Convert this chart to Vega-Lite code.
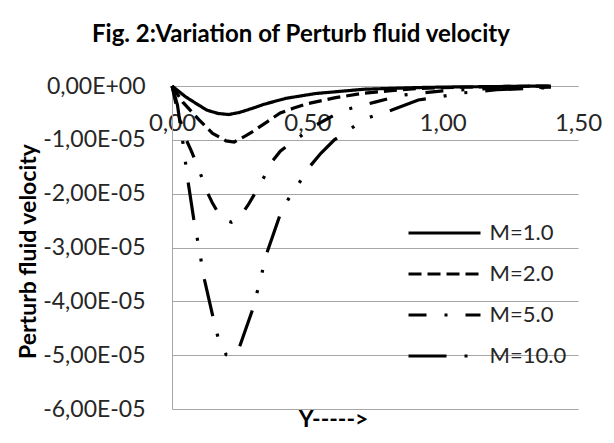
{
  "$schema": "https://vega.github.io/schema/vega-lite/v6.json",
  "autosize": "none",
  "width": 406,
  "height": 323,
  "padding": {"left": 172, "top": 86, "right": 36, "bottom": 34},
  "background": "white",
  "config": {
    "view": {"stroke": null},
    "font": "Lato"
  },
  "title": {
    "text": "Fig. 2:Variation of Perturb  fluid velocity",
    "anchor": "start",
    "frame": "group",
    "dx": -80,
    "offset": 28,
    "font": "Lato",
    "fontSize": 24,
    "fontWeight": "bold",
    "color": "#000000"
  },
  "data": {
    "values": [
      {"X": 0.00, "V": 0.0, "M": "M=1.0"},
      {"X": 0.05, "V": -0.20e-5, "M": "M=1.0"},
      {"X": 0.10, "V": -0.36e-5, "M": "M=1.0"},
      {"X": 0.13, "V": -0.45e-5, "M": "M=1.0"},
      {"X": 0.17, "V": -0.51e-5, "M": "M=1.0"},
      {"X": 0.21, "V": -0.53e-5, "M": "M=1.0"},
      {"X": 0.25, "V": -0.49e-5, "M": "M=1.0"},
      {"X": 0.30, "V": -0.41e-5, "M": "M=1.0"},
      {"X": 0.34, "V": -0.34e-5, "M": "M=1.0"},
      {"X": 0.42, "V": -0.23e-5, "M": "M=1.0"},
      {"X": 0.53, "V": -0.14e-5, "M": "M=1.0"},
      {"X": 0.71, "V": -0.06e-5, "M": "M=1.0"},
      {"X": 0.90, "V": -0.03e-5, "M": "M=1.0"},
      {"X": 1.00, "V": -0.02e-5, "M": "M=1.0"},
      {"X": 1.20, "V": -0.01e-5, "M": "M=1.0"},
      {"X": 1.40, "V": 0.0, "M": "M=1.0"},

      {"X": 0.00, "V": 0.0, "M": "M=2.0"},
      {"X": 0.04, "V": -0.30e-5, "M": "M=2.0"},
      {"X": 0.10, "V": -0.63e-5, "M": "M=2.0"},
      {"X": 0.15, "V": -0.88e-5, "M": "M=2.0"},
      {"X": 0.20, "V": -1.02e-5, "M": "M=2.0"},
      {"X": 0.23, "V": -1.04e-5, "M": "M=2.0"},
      {"X": 0.27, "V": -0.93e-5, "M": "M=2.0"},
      {"X": 0.30, "V": -0.84e-5, "M": "M=2.0"},
      {"X": 0.35, "V": -0.67e-5, "M": "M=2.0"},
      {"X": 0.40, "V": -0.50e-5, "M": "M=2.0"},
      {"X": 0.45, "V": -0.41e-5, "M": "M=2.0"},
      {"X": 0.50, "V": -0.33e-5, "M": "M=2.0"},
      {"X": 0.60, "V": -0.22e-5, "M": "M=2.0"},
      {"X": 0.70, "V": -0.14e-5, "M": "M=2.0"},
      {"X": 0.80, "V": -0.09e-5, "M": "M=2.0"},
      {"X": 0.90, "V": -0.05e-5, "M": "M=2.0"},
      {"X": 1.00, "V": -0.03e-5, "M": "M=2.0"},
      {"X": 1.20, "V": -0.01e-5, "M": "M=2.0"},
      {"X": 1.40, "V": 0.0, "M": "M=2.0"},

      {"X": 0.00, "V": 0.0, "M": "M=5.0"},
      {"X": 0.02, "V": -0.45e-5, "M": "M=5.0"},
      {"X": 0.05, "V": -0.97e-5, "M": "M=5.0"},
      {"X": 0.07, "V": -1.19e-5, "M": "M=5.0"},
      {"X": 0.10, "V": -1.56e-5, "M": "M=5.0"},
      {"X": 0.13, "V": -1.97e-5, "M": "M=5.0"},
      {"X": 0.15, "V": -2.18e-5, "M": "M=5.0"},
      {"X": 0.17, "V": -2.35e-5, "M": "M=5.0"},
      {"X": 0.20, "V": -2.50e-5, "M": "M=5.0"},
      {"X": 0.22, "V": -2.53e-5, "M": "M=5.0"},
      {"X": 0.25, "V": -2.44e-5, "M": "M=5.0"},
      {"X": 0.28, "V": -2.22e-5, "M": "M=5.0"},
      {"X": 0.30, "V": -2.05e-5, "M": "M=5.0"},
      {"X": 0.33, "V": -1.79e-5, "M": "M=5.0"},
      {"X": 0.37, "V": -1.40e-5, "M": "M=5.0"},
      {"X": 0.40, "V": -1.21e-5, "M": "M=5.0"},
      {"X": 0.47, "V": -0.95e-5, "M": "M=5.0"},
      {"X": 0.53, "V": -0.73e-5, "M": "M=5.0"},
      {"X": 0.60, "V": -0.54e-5, "M": "M=5.0"},
      {"X": 0.65, "V": -0.43e-5, "M": "M=5.0"},
      {"X": 0.75, "V": -0.30e-5, "M": "M=5.0"},
      {"X": 0.85, "V": -0.17e-5, "M": "M=5.0"},
      {"X": 1.00, "V": -0.09e-5, "M": "M=5.0"},
      {"X": 1.20, "V": -0.04e-5, "M": "M=5.0"},
      {"X": 1.40, "V": -0.02e-5, "M": "M=5.0"},

      {"X": 0.00, "V": 0.0, "M": "M=10.0"},
      {"X": 0.02, "V": -0.35e-5, "M": "M=10.0"},
      {"X": 0.04, "V": -1.04e-5, "M": "M=10.0"},
      {"X": 0.05, "V": -1.43e-5, "M": "M=10.0"},
      {"X": 0.06, "V": -1.80e-5, "M": "M=10.0"},
      {"X": 0.08, "V": -2.46e-5, "M": "M=10.0"},
      {"X": 0.10, "V": -3.02e-5, "M": "M=10.0"},
      {"X": 0.12, "V": -3.60e-5, "M": "M=10.0"},
      {"X": 0.15, "V": -4.26e-5, "M": "M=10.0"},
      {"X": 0.17, "V": -4.67e-5, "M": "M=10.0"},
      {"X": 0.20, "V": -4.99e-5, "M": "M=10.0"},
      {"X": 0.22, "V": -5.03e-5, "M": "M=10.0"},
      {"X": 0.25, "V": -4.84e-5, "M": "M=10.0"},
      {"X": 0.30, "V": -4.12e-5, "M": "M=10.0"},
      {"X": 0.33, "V": -3.52e-5, "M": "M=10.0"},
      {"X": 0.35, "V": -3.11e-5, "M": "M=10.0"},
      {"X": 0.40, "V": -2.38e-5, "M": "M=10.0"},
      {"X": 0.43, "V": -2.10e-5, "M": "M=10.0"},
      {"X": 0.47, "V": -1.80e-5, "M": "M=10.0"},
      {"X": 0.50, "V": -1.55e-5, "M": "M=10.0"},
      {"X": 0.55, "V": -1.25e-5, "M": "M=10.0"},
      {"X": 0.60, "V": -1.00e-5, "M": "M=10.0"},
      {"X": 0.67, "V": -0.76e-5, "M": "M=10.0"},
      {"X": 0.73, "V": -0.58e-5, "M": "M=10.0"},
      {"X": 0.81, "V": -0.45e-5, "M": "M=10.0"},
      {"X": 0.91, "V": -0.26e-5, "M": "M=10.0"},
      {"X": 1.00, "V": -0.19e-5, "M": "M=10.0"},
      {"X": 1.07, "V": -0.13e-5, "M": "M=10.0"},
      {"X": 1.20, "V": -0.07e-5, "M": "M=10.0"},
      {"X": 1.40, "V": -0.03e-5, "M": "M=10.0"}
    ]
  },
  "mark": {"type": "line", "color": "#000000", "strokeWidth": 3.2, "clip": false},
  "encoding": {
    "x": {
      "field": "X",
      "type": "quantitative",
      "scale": {"domain": [0, 1.5], "nice": false, "zero": false},
      "axis": {
        "orient": "top",
        "values": [0, 0.5, 1, 1.5],
        "labelExpr": "replace(format(datum.value, '.2f'), '.', ',')",
        "grid": false,
        "ticks": false,
        "domain": true,
        "domainColor": "#a6a6a6",
        "labelFont": "Lato",
        "labelFontSize": 24,
        "labelColor": "#262626",
        "labelPadding": -49,
        "labelFlush": false,
        "title": "Y----->",
        "titleFont": "Lato",
        "titleFontSize": 23,
        "titleFontWeight": "bold",
        "titleColor": "#000000",
        "titleX": 161,
        "titleY": 333,
        "titleAlign": "center",
        "titleBaseline": "middle"
      }
    },
    "y": {
      "field": "V",
      "type": "quantitative",
      "scale": {"domain": [-6e-5, 0], "nice": false, "zero": false},
      "axis": {
        "values": [0, -1e-5, -2e-5, -3e-5, -4e-5, -5e-5, -6e-5],
        "labelExpr": "datum.value == 0 ? '0,00E+00' : '-' + replace(format(abs(datum.value) * 1e5, '.2f'), '.', ',') + 'E-05'",
        "grid": true,
        "gridColor": "#a6a6a6",
        "gridWidth": 1,
        "ticks": false,
        "domain": true,
        "domainColor": "#a6a6a6",
        "labelFont": "Lato",
        "labelFontSize": 23,
        "labelColor": "#262626",
        "labelPadding": 27,
        "title": "Perturb fluid velocity",
        "titleFont": "Lato",
        "titleFontSize": 23,
        "titleFontWeight": "bold",
        "titleColor": "#000000",
        "titleX": -144,
        "titleY": 165,
        "titleAlign": "center",
        "titleBaseline": "middle",
        "titleAngle": -90
      }
    },
    "strokeDash": {
      "field": "M",
      "type": "nominal",
      "scale": {
        "domain": ["M=1.0", "M=2.0", "M=5.0", "M=10.0"],
        "range": [[1, 0], [13, 6], [18, 18, 3, 18], [38, 18, 3, 18, 3, 18]]
      },
      "legend": {
        "title": null,
        "orient": "none",
        "legendX": 236,
        "legendY": 117,
        "padding": 0,
        "symbolType": "M-1.29,0H1.29",
        "symbolSize": 3114,
        "symbolStrokeWidth": 3.2,
        "symbolStrokeColor": "#000000",
        "symbolOffset": 6.5,
        "rowPadding": 0,
        "labelOffset": 15,
        "labelFont": "Lato",
        "labelFontSize": 22,
        "labelColor": "#262626"
      }
    }
  }
}
